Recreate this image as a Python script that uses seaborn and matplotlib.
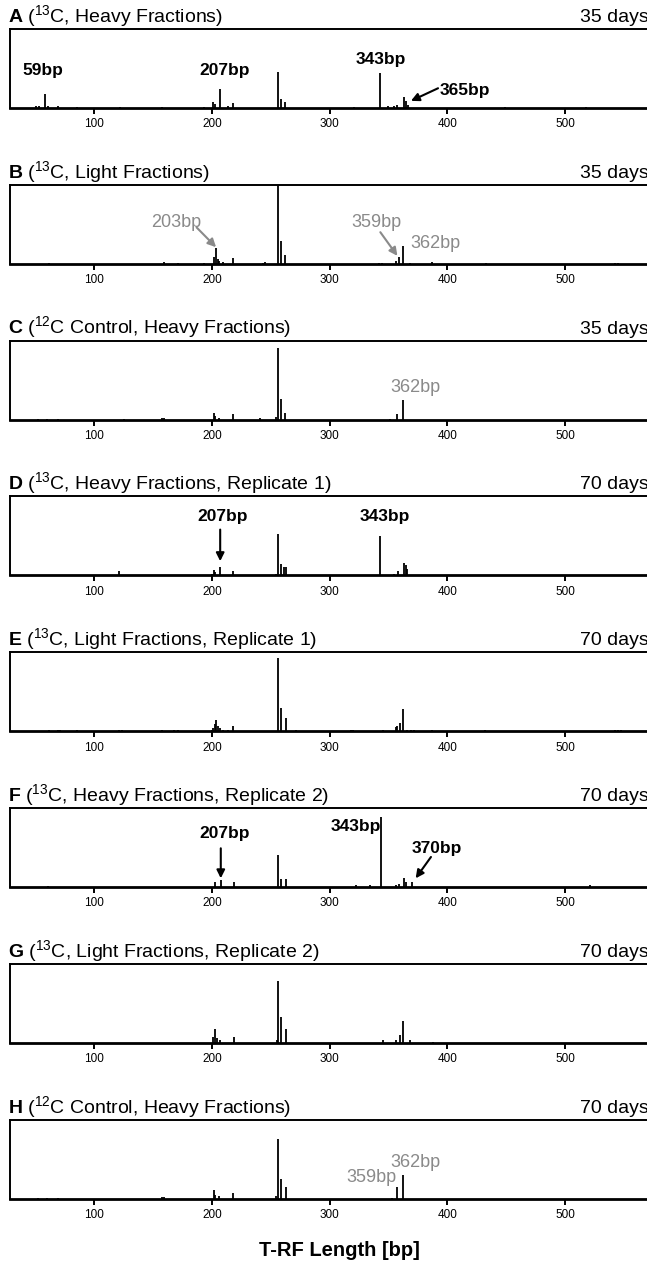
import matplotlib
matplotlib.use("Agg")
import matplotlib.pyplot as plt
import seaborn as sns

# T-RF peaks (length in bp, relative peak height)
a_bp = [51, 53, 58.5, 61, 69, 85, 122, 158, 193.5, 201, 202.5, 207, 214, 218, 256, 258.5, 262,
        320.5, 342.5, 349.5, 355, 357.5, 363, 364.5, 366.5, 449, 518]
a_h = [0.02, 0.02, 0.18, 0.02, 0.03, 0.01, 0.01, 0.01, 0.01, 0.07, 0.05, 0.24, 0.03, 0.06, 0.45, 0.12, 0.08,
       0.01, 0.44, 0.02, 0.03, 0.04, 0.14, 0.09, 0.04, 0.01, 0.01]

b_bp = [62, 159.5, 171, 193, 202, 203.5, 205, 206, 209, 218, 243, 245, 256, 258.5, 262,
        342, 344, 356, 358.5, 362.5, 368, 387, 432.5, 542, 545]
b_h = [0.01, 0.02, 0.01, 0.01, 0.08, 0.20, 0.06, 0.04, 0.02, 0.07, 0.01, 0.02, 1.2, 0.29, 0.11,
       0.01, 0.01, 0.03, 0.08, 0.23, 0.01, 0.02, 0.01, 0.01, 0.01]

c_bp = [52.5, 59.5, 69, 125, 157.5, 159, 201.5, 203, 206, 218, 241, 254, 256, 258.5, 262, 351, 357.5, 362.5]
c_h = [0.01, 0.01, 0.01, 0.005, 0.02, 0.02, 0.08, 0.05, 0.02, 0.065, 0.02, 0.03, 0.91, 0.26, 0.08, 0.01, 0.07, 0.25]

d_bp = [52, 60, 69, 121, 157.5, 159, 200, 201.5, 203, 207, 218, 254, 256, 258.5, 261.5, 263,
        320.5, 323, 342.5, 355, 358, 363, 364.5, 366, 520, 550]
d_h = [0.01, 0.01, 0.01, 0.05, 0.01, 0.01, 0.02, 0.065, 0.04, 0.11, 0.05, 0.02, 0.52, 0.15, 0.11, 0.11,
       0.01, 0.01, 0.50, 0.02, 0.05, 0.16, 0.13, 0.08, 0.01, 0.01]

e_bp = [62, 69, 71, 85, 121, 124, 158, 168, 171, 200, 201, 202.5, 203.5, 205, 207, 209, 214, 218,
        256, 258.5, 263, 271, 318, 320, 345, 356, 357.5, 360, 362.5, 366, 369, 372, 387, 432, 542, 545, 547]
e_h = [0.01, 0.01, 0.01, 0.01, 0.01, 0.01, 0.01, 0.01, 0.01, 0.02, 0.04, 0.09, 0.14, 0.07, 0.04, 0.02, 0.02, 0.07,
       0.93, 0.30, 0.17, 0.02, 0.02, 0.02, 0.01, 0.05, 0.06, 0.11, 0.28, 0.02, 0.02, 0.02, 0.02, 0.01, 0.01, 0.01, 0.01]

f_bp = [61, 202.5, 207.5, 219, 256, 259, 263, 322, 334, 343.5, 356, 359, 363.5, 365, 369.5, 521]
f_h = [0.01, 0.06, 0.09, 0.06, 0.40, 0.10, 0.10, 0.03, 0.02, 0.88, 0.02, 0.04, 0.12, 0.06, 0.06, 0.02]

g_bp = [201, 202.5, 204, 206.5, 218.5, 255, 256.5, 259, 263, 345, 356.5, 359.5, 362.5, 368, 387.5]
g_h = [0.07, 0.17, 0.06, 0.03, 0.07, 0.04, 0.78, 0.33, 0.18, 0.04, 0.03, 0.10, 0.28, 0.03, 0.01]

h_bp = [52, 60, 69, 157.5, 159.5, 201.5, 203, 206, 218, 254, 256, 259, 263, 353, 357.5, 362.5]
h_h = [0.01, 0.01, 0.01, 0.02, 0.02, 0.11, 0.05, 0.03, 0.065, 0.03, 0.75, 0.25, 0.15, 0.01, 0.15, 0.30]

letters = ["A", "B", "C", "D", "E", "F", "G", "H"]
titles = ["($^{13}$C, Heavy Fractions)", "($^{13}$C, Light Fractions)", "($^{12}$C Control, Heavy Fractions)",
          "($^{13}$C, Heavy Fractions, Replicate 1)", "($^{13}$C, Light Fractions, Replicate 1)",
          "($^{13}$C, Heavy Fractions, Replicate 2)", "($^{13}$C, Light Fractions, Replicate 2)",
          "($^{12}$C Control, Heavy Fractions)"]
days = ["35 days", "35 days", "35 days", "70 days", "70 days", "70 days", "70 days", "70 days"]
xticks = [100, 200, 300, 400, 500]

peaks = [(a_bp, a_h), (b_bp, b_h), (c_bp, c_h), (d_bp, d_h),
         (e_bp, e_h), (f_bp, f_h), (g_bp, g_h), (h_bp, h_h)]

BLACK = "#000000"
GREY = "#8a8a8a"
# labels: panel, text, x, y, colour, bold, arrow (x0, y0, x1, y1) or None
labels = [
    (0, "59bp", 56.5, 0.47, BLACK, True, None),
    (0, "207bp", 211, 0.48, BLACK, True, None),
    (0, "343bp", 343, 0.61, BLACK, True, None),
    (0, "365bp", 415, 0.22, BLACK, True, (392, 0.25, 369, 0.09)),
    (1, "203bp", 170, 0.52, GREY, False, (187, 0.46, 203.5, 0.21)),
    (1, "359bp", 340, 0.52, GREY, False, (343, 0.40, 357.5, 0.10)),
    (1, "362bp", 390, 0.26, GREY, False, None),
    (2, "362bp", 373, 0.40, GREY, False, None),
    (3, "207bp", 209, 0.75, BLACK, True, (207, 0.58, 207, 0.18)),
    (3, "343bp", 347, 0.75, BLACK, True, None),
    (5, "207bp", 211, 0.68, BLACK, True, (207.5, 0.49, 207.5, 0.11)),
    (5, "343bp", 322, 0.77, BLACK, True, None),
    (5, "370bp", 391, 0.49, BLACK, True, (386, 0.38, 373, 0.11)),
    (7, "362bp", 373, 0.46, GREY, False, None),
    (7, "359bp", 335, 0.27, GREY, False, None),
]

sns.set_theme(style="ticks")
plt.rcParams["font.family"] = ["Liberation Sans", "DejaVu Sans"]
plt.rcParams["text.color"] = "black"
plt.rcParams["xtick.color"] = "black"
plt.rcParams["xtick.labelcolor"] = "black"
plt.rcParams["mathtext.fontset"] = "custom"
plt.rcParams["mathtext.rm"] = "Liberation Sans"
plt.rcParams["mathtext.bf"] = "Liberation Sans:bold"
plt.rcParams["mathtext.default"] = "regular"

W, H = 647, 1262
fig = plt.figure(figsize=(W / 100, H / 100), dpi=100)

axes = []
for i, (bp, hts) in enumerate(peaks):
    top = 29 + i * 155.8
    ax = fig.add_axes([10 / W, 1 - (top + 79) / H, 650 / W, 79 / H])
    ax.vlines(bp, 0, hts, color="black", lw=1.3)
    ax.set_xlim(28.5, 580.5)
    ax.set_ylim(0, 1)
    ax.set_yticks([])
    ax.set_xticks(xticks)
    ax.tick_params(axis="x", direction="out", length=4.5, width=1.4, labelsize=8.5, pad=3,
                   colors="black")
    for s in ax.spines.values():
        s.set_linewidth(1.4)
        s.set_color("black")
    ax.spines["bottom"].set_linewidth(2)
    ax.text(-0.003, 1 + 7 / 79, r"$\mathbf{%s}$ %s" % (letters[i], titles[i]), transform=ax.transAxes,
            ha="left", va="baseline", fontsize=14)
    fig.text(580 / W, 1 - (top - 7) / H, days[i], ha="left", va="baseline", fontsize=14)
    axes.append(ax)

for p, txt, x, y, col, bold, arrow in labels:
    ax = axes[p]
    ax.text(x, y, txt, color=col, ha="center", va="center",
            fontsize=12.5 if bold else 13, fontweight="bold" if bold else "normal")
    if arrow:
        ax.annotate("", xy=(arrow[2], arrow[3]), xytext=(arrow[0], arrow[1]),
                    arrowprops=dict(arrowstyle="-|>", color=col, lw=1.5, mutation_scale=12,
                                    shrinkA=0, shrinkB=0))

fig.text(339 / W, 1 - 1251 / H, "T-RF Length [bp]", ha="center", va="center", fontsize=14.5,
         fontweight="bold")

fig.savefig("out.png", dpi=100)
